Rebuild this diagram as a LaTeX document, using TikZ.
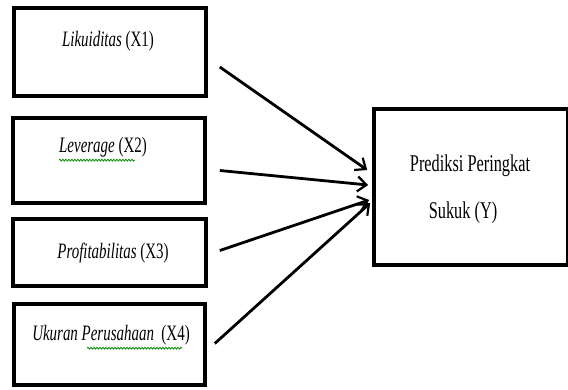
\documentclass[tikz,border=0pt]{standalone}
\usepackage{fontspec}
\setmainfont{Liberation Serif}[FakeStretch=0.68]
\usetikzlibrary{arrows.meta,calc,decorations.pathmorphing}
\begin{document}
\begin{tikzpicture}[x=1pt,y=-1pt,
  box/.style={draw=black,line width=3.6pt,fill=white,inner sep=0pt},
  lbl/.style={inner sep=0pt,font=\fontsize{22}{26}\selectfont},
  arr/.style={line width=2.8pt,-{Straight Barb[length=9pt,width=15pt,line width=2.2pt]}},
  squig/.style={draw=green!55!black,line width=0.8pt,decorate,decoration={snake,segment length=3pt,amplitude=0.9pt}}]
\useasboundingbox (0,0) rectangle (568,389);
\node[box,minimum width=192pt,minimum height=88pt] (x1) at (110,52) {};
\node[box,minimum width=192pt,minimum height=85pt] (x2) at (109,160.5) {};
\node[box,minimum width=193pt,minimum height=67pt] (x3) at (109.5,252.5) {};
\node[box,minimum width=191pt,minimum height=81pt] (x4) at (109.5,344.5) {};
\node[box,minimum width=194pt,minimum height=156pt] (y) at (471,187) {};
\node[lbl] (t1) at (108,41) {\textit{Likuiditas}~(X1)};
\node[lbl] (t2) at (103,147) {\textit{Leverage} (X2)};
\node[lbl] (t3) at (113,253) {\textit{Profitabilitas}~(X3)};
\node[lbl] (t4) at (111,335) {\textit{Ukuran Perusahaan}\ \ (X4)};
\node[lbl,font=\fontsize{24}{28}\selectfont] (ty1) at (470,166) {Prediksi Peringkat};
\node[lbl,font=\fontsize{24}{28}\selectfont] (ty2) at (463,213) {Sukuk (Y)};
\coordinate (s2a) at ($(t2.south west)+(0,3)$);
\coordinate (s2b) at ($(t2.south west)+(76,3)$);
\draw[squig] (s2a) -- (s2b);
\coordinate (s4a) at ($(t4.south west)+(55,3)$);
\coordinate (s4b) at ($(t4.south west)+(150,3)$);
\draw[squig] (s4a) -- (s4b);
\draw[arr] ($(x1.east)+(12,15)$) -- ($(y.west)+(-5,-17)$);
\draw[arr] ($(x2.east)+(13,10)$) -- ($(y.west)+(-4,-2)$);
\draw[arr] ($(x3.east)+(12,-2)$) -- ($(y.west)+(-3,13)$);
\draw[arr] ($(x4.east)+(8,-1)$) -- ($(y.west)+(-2,16)$);
\end{tikzpicture}
\end{document}
